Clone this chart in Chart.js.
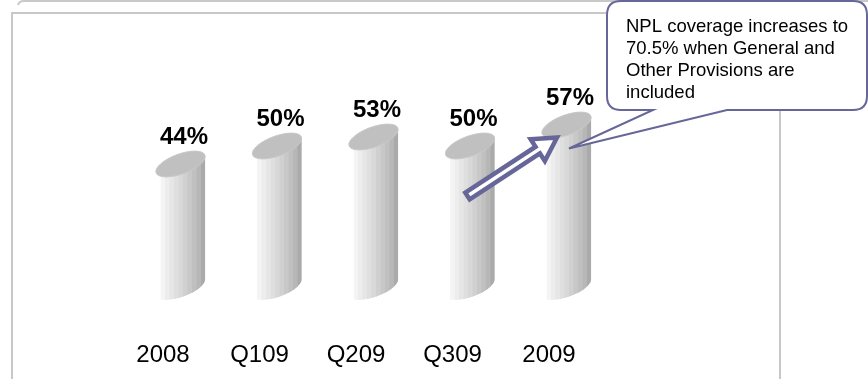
<!DOCTYPE html>
<html>
<head>
<meta charset="utf-8">
<script src="https://cdn.jsdelivr.net/npm/chart.js@4.4.1/dist/chart.umd.min.js"></script>
<style>
  html, body { margin: 0; padding: 0; background: #fff; }
  #chart { display: block; }
</style>
</head>
<body>
<canvas id="chart" width="868" height="379"></canvas>
<script>
const categories = ["2008", "Q109", "Q209", "Q309", "2009"];
const coverage = [44, 50, 53, 50, 57];
const calloutLines = [
  "NPL coverage increases to",
  "70.5% when General and",
  "Other Provisions are",
  "included",
];

const stripeColors = [
  "#f4f4f4", "#ededed", "#e6e6e6", "#dfdfdf", "#d8d8d8",
  "#d0d0d0", "#c8c8c8", "#c0c0c0", "#b7b7b7", "#aaaaaa",
];
const outline = "#666699";
const frameGrey = "#c8c8c8";

// cylinder shape (pixels)
const bodyWidth = 45;
const capA = 26;
const capB = 10;
const capTilt = (-20 * Math.PI) / 180;
const depthShift = 20;
// parametric angle of the cap's right-most point
const capEdge = Math.atan2(-capB * Math.sin(capTilt), capA * Math.cos(capTilt));

function drawCylinder(ctx, cx, yTop, yBot) {
  const xL = cx - bodyWidth / 2;
  const capX = cx - 2.5;

  ctx.save();
  // hull of the top and bottom caps, cut to the body width
  ctx.beginPath();
  ctx.ellipse(capX, yBot, capA, capB, capTilt, capEdge, capEdge + Math.PI, false);
  ctx.ellipse(capX, yTop, capA, capB, capTilt, capEdge + Math.PI, capEdge + 2 * Math.PI, false);
  ctx.closePath();
  ctx.clip();
  ctx.beginPath();
  ctx.rect(xL, 0, bodyWidth, ctx.canvas.height);
  ctx.clip();
  const sw = bodyWidth / stripeColors.length;
  stripeColors.forEach((c, i) => {
    ctx.fillStyle = c;
    ctx.fillRect(xL + i * sw, yTop - 20, sw + 0.6, yBot - yTop + 40);
  });
  ctx.restore();

  ctx.beginPath();
  ctx.ellipse(capX, yTop, capA, capB, capTilt, 0, Math.PI * 2);
  ctx.fillStyle = "#c0c0c0";
  ctx.fill();
  ctx.strokeStyle = "#c9c9c9";
  ctx.lineWidth = 1;
  ctx.stroke();
}

function drawFrame(ctx) {
  ctx.save();
  ctx.strokeStyle = frameGrey;
  ctx.lineWidth = 2;
  ctx.beginPath();
  ctx.moveTo(18, 5);
  ctx.quadraticCurveTo(19, 1, 24, 1);
  ctx.lineTo(868, 1);
  ctx.stroke();
  ctx.beginPath();
  ctx.moveTo(12, 379);
  ctx.lineTo(12, 13);
  ctx.lineTo(780, 13);
  ctx.moveTo(780, 13);
  ctx.lineTo(780, 379);
  ctx.stroke();
  ctx.restore();
}

function drawArrow(ctx, x0, y0, x1, y1) {
  const len = Math.hypot(x1 - x0, y1 - y0);
  const ang = Math.atan2(y1 - y0, x1 - x0);
  const hw = 4, headW = 13, headL = 23;
  ctx.save();
  ctx.translate(x0, y0);
  ctx.rotate(ang);
  ctx.beginPath();
  ctx.moveTo(0, -hw);
  ctx.lineTo(len - headL, -hw);
  ctx.lineTo(len - headL, -headW);
  ctx.lineTo(len, 0);
  ctx.lineTo(len - headL, headW);
  ctx.lineTo(len - headL, hw);
  ctx.lineTo(0, hw);
  ctx.closePath();
  ctx.fillStyle = "#fff";
  ctx.fill();
  ctx.strokeStyle = outline;
  ctx.lineWidth = 4.5;
  ctx.lineJoin = "miter";
  ctx.stroke();
  ctx.restore();
}

function drawCallout(ctx, tipX, tipY) {
  const x = 607, y = 1, w = 260, h = 109, r = 14;
  const tailL = 653, tailR = 727;
  ctx.save();
  ctx.beginPath();
  ctx.moveTo(x + r, y);
  ctx.lineTo(x + w - r, y);
  ctx.quadraticCurveTo(x + w, y, x + w, y + r);
  ctx.lineTo(x + w, y + h - r);
  ctx.quadraticCurveTo(x + w, y + h, x + w - r, y + h);
  ctx.lineTo(tailR, y + h);
  ctx.lineTo(tipX, tipY);
  ctx.lineTo(tailL, y + h);
  ctx.lineTo(x + r, y + h);
  ctx.quadraticCurveTo(x, y + h, x, y + h - r);
  ctx.lineTo(x, y + r);
  ctx.quadraticCurveTo(x, y, x + r, y);
  ctx.closePath();
  ctx.fillStyle = "#fff";
  ctx.fill();
  ctx.strokeStyle = outline;
  ctx.lineWidth = 2;
  ctx.stroke();

  ctx.fillStyle = "#000";
  ctx.font = '18.5px "Liberation Sans", Arial, sans-serif';
  ctx.textAlign = "left";
  ctx.textBaseline = "alphabetic";
  calloutLines.forEach((line, i) => {
    ctx.fillText(line, 626, 32 + i * 22);
  });
  ctx.restore();
}

const cylinders = {
  id: "cylinders",
  beforeDraw(chart) {
    drawFrame(chart.ctx);
  },
  afterDatasetsDraw(chart) {
    const ctx = chart.ctx;
    const bars = chart.getDatasetMeta(0).data;
    bars.forEach((bar, i) => {
      const cx = bar.x + depthShift;
      drawCylinder(ctx, cx, bar.y, bar.base - 9);
      ctx.save();
      ctx.fillStyle = "#000";
      ctx.font = 'bold 24px "Liberation Sans", Arial, sans-serif';
      ctx.textAlign = "center";
      ctx.textBaseline = "alphabetic";
      ctx.fillText(coverage[i] + "%", cx + 1, bar.y - 20);
      ctx.restore();
    });

    const last = bars[bars.length - 1];
    const prev = bars[bars.length - 2];
    const lastX = last.x + depthShift;
    const prevX = prev.x + depthShift;
    drawArrow(ctx, prevX - 5, prev.y + 50, lastX - 12, last.y + 12.5);
    drawCallout(ctx, lastX, last.y + 23.5);
  },
};

new Chart(document.getElementById("chart"), {
  type: "bar",
  data: {
    labels: categories,
    datasets: [
      {
        label: "NPL coverage",
        data: coverage,
        backgroundColor: "rgba(0,0,0,0)",
        borderWidth: 0,
      },
    ],
  },
  options: {
    responsive: false,
    animation: false,
    layout: {
      padding: { left: 114.75, right: 270.75, top: 56, bottom: 0 },
    },
    plugins: {
      legend: { display: false },
      tooltip: { enabled: false },
    },
    scales: {
      x: {
        grid: { display: false, drawTicks: false },
        border: { display: false },
        ticks: {
          color: "#000",
          padding: 45,
          font: { family: '"Liberation Sans", Arial, sans-serif', size: 24 },
        },
        afterFit(scale) {
          scale.height = 83;
        },
      },
      y: {
        display: false,
        min: 0,
        max: 80,
      },
    },
  },
  plugins: [cylinders],
});
</script>
</body>
</html>
